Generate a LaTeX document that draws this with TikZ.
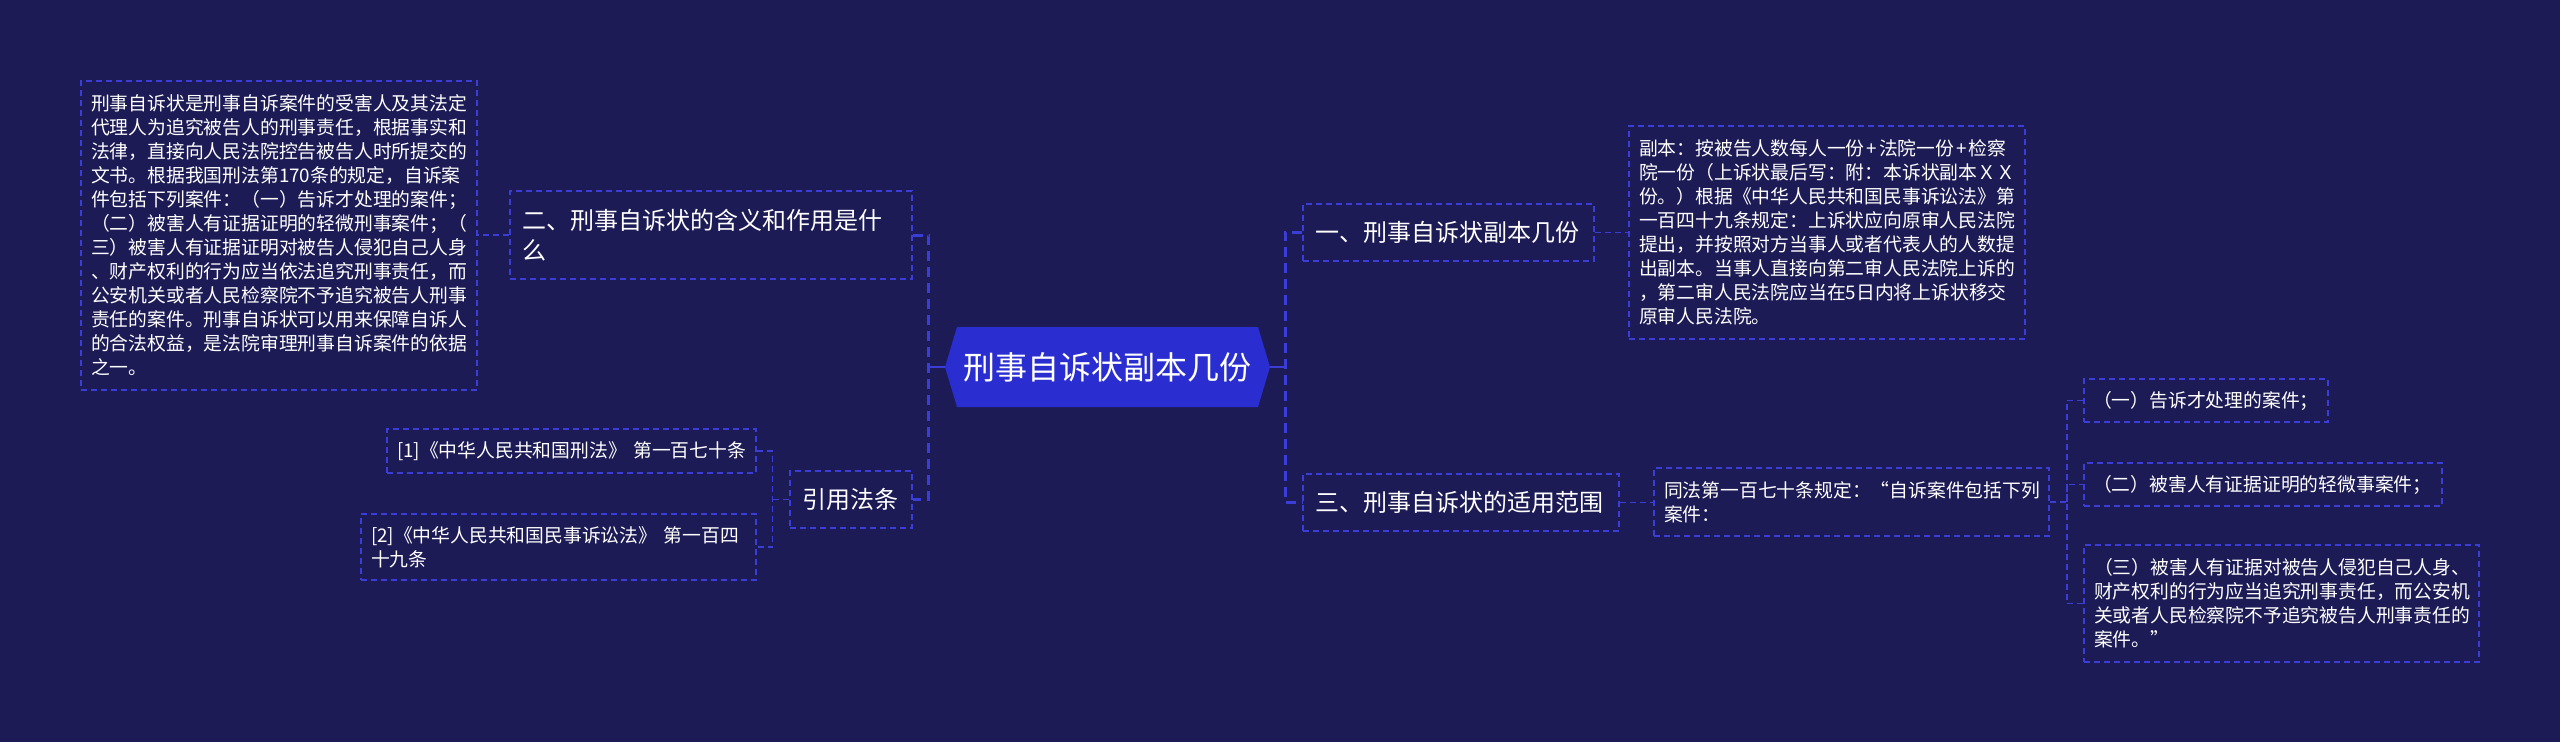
\documentclass[tikz,border=0pt]{standalone}
\usepackage{fontspec}
\setmainfont{Noto Sans CJK SC}
\usetikzlibrary{calc}
\definecolor{bgc}{HTML}{1C1B55}
\definecolor{linec}{HTML}{3A3DD6}
\definecolor{rootc}{HTML}{2A2ED0}
\begin{document}
\begin{tikzpicture}[x=1pt,y=-1pt,
  box/.style={draw=linec, line width=1.5pt, dash pattern=on 6pt off 4pt, text=white, align=left, inner xsep=0pt, inner ysep=0pt, anchor=center},
  small/.style={font=\fontsize{18.8}{24}\selectfont},
  big/.style={font=\fontsize{24}{30}\selectfont},
  rootnode/.style={text=white, inner sep=0pt, minimum width=325pt, minimum height=80pt, font=\fontsize{32}{36}\selectfont},
  thinsolid/.style={draw=linec, line width=2pt},
  busthick/.style={draw=linec, line width=3pt, dash pattern=on 10pt off 6pt},
  thinline/.style={draw=linec, line width=1.5pt, dash pattern=on 6pt off 4pt}
]
\useasboundingbox (0,0) rectangle (2560,742);
\fill[bgc] (0,0) rectangle (2560,742);

% root
\coordinate (rc) at (1107.5,367);
\fill[rootc] ($(rc)+(-162.5,0)$) -- ++(12,-40) -- ++(301,0) -- ++(12,40) -- ++(-12,40) -- ++(-301,0) -- cycle;
\node[rootnode] (root) at (rc) {刑事自诉状副本几份};

% left side
\node[box,small,minimum width=396pt,minimum height=309pt,text width=376pt] (lt) at (279,235.5) {刑事自诉状是刑事自诉案件的受害人及其法定\\代理人为追究被告人的刑事责任，根据事实和\\法律，直接向人民法院控告被告人时所提交的\\文书。根据我国刑法第170条的规定，自诉案\\件包括下列案件：（一）告诉才处理的案件；\\（二）被害人有证据证明的轻微刑事案件；（\\三）被害人有证据证明对被告人侵犯自己人身\\、财产权利的行为应当依法追究刑事责任，而\\公安机关或者人民检察院不予追究被告人刑事\\责任的案件。刑事自诉状可以用来保障自诉人\\的合法权益，是法院审理刑事自诉案件的依据\\之一。};
\node[box,big,minimum width=402pt,minimum height=88pt,text width=378pt] (n2) at (711,235) {二、刑事自诉状的含义和作用是什\\么};
\node[box,big,minimum width=122pt,minimum height=57pt,text width=98pt] (yy) at (851,499.5) {引用法条};
\node[box,small,minimum width=369pt,minimum height=44pt,text width=349pt] (r1) at (571.5,451) {[1]《中华人民共和国刑法》~第一百七十条};
\node[box,small,minimum width=395pt,minimum height=66pt,text width=375pt] (r2) at (558.5,547) {[2]《中华人民共和国民事诉讼法》~第一百四\\十九条};

% right side
\node[box,big,minimum width=291pt,minimum height=57pt,text width=267pt] (n1) at (1448.5,232.5) {一、刑事自诉状副本几份};
\node[box,big,minimum width=316pt,minimum height=57pt,text width=292pt] (n3) at (1461,502.5) {三、刑事自诉状的适用范围};
\node[box,small,minimum width=396pt,minimum height=213pt,text width=376pt] (fb) at (1827,232.5) {副本：按被告人数每人一份\kern2pt+\kern2pt法院一份\kern2pt+\kern2pt检察\\院一份（上诉状最后写：附：本诉状副本ＸＸ\\份。）根据《中华人民共和国民事诉讼法》第\\一百四十九条规定：上诉状应向原审人民法院\\提出，并按照对方当事人或者代表人的人数提\\出副本。当事人直接向第二审人民法院上诉的\\，第二审人民法院应当在5日内将上诉状移交\\原审人民法院。};
\node[box,small,minimum width=395pt,minimum height=68pt,text width=375pt] (tf) at (1851.5,502) {同法第一百七十条规定：“自诉案件包括下列\\案件：};
\node[box,small,minimum width=244pt,minimum height=43pt,text width=226pt] (i1) at (2206,400.5) {（一）告诉才处理的案件；};
\node[box,small,minimum width=358pt,minimum height=43pt,text width=340pt] (i2) at (2263,484.5) {（二）被害人有证据证明的轻微事案件；};
\node[box,small,minimum width=395pt,minimum height=117pt,text width=375pt] (i3) at (2281.5,603.5) {（三）被害人有证据对被告人侵犯自己人身、\\财产权利的行为应当追究刑事责任，而公安机\\关或者人民检察院不予追究被告人刑事责任的\\案件。”};

% connectors: root left
\draw[thinsolid] (root.west) -- ++(-16,0) coordinate (lb);
\draw[busthick] (n2.east) -| (lb) |- (yy.east);
\draw[thinline] (n2.west) -- (n2.west -| lt.east);
\draw[thinline] (yy.west) -- ++(-17,0) coordinate (yb);
\draw[thinline] (r1.east) -| (yb) |- (r2.east);

% connectors: root right
\draw[thinsolid] (root.east) -- ++(15,0) coordinate (rb);
\draw[busthick] (n1.west) -| (rb) |- (n3.west);
\draw[thinline] (n1.east) -- (n1.east -| fb.west);
\draw[thinline] (n3.east) -- (n3.east -| tf.west);
\draw[thinline] (tf.east) -- ++(17,0) coordinate (tb);
\draw[thinline] (i1.west) -| (tb) |- (i3.west);
\draw[thinline] (tb) |- (i2.west);
\end{tikzpicture}
\end{document}
